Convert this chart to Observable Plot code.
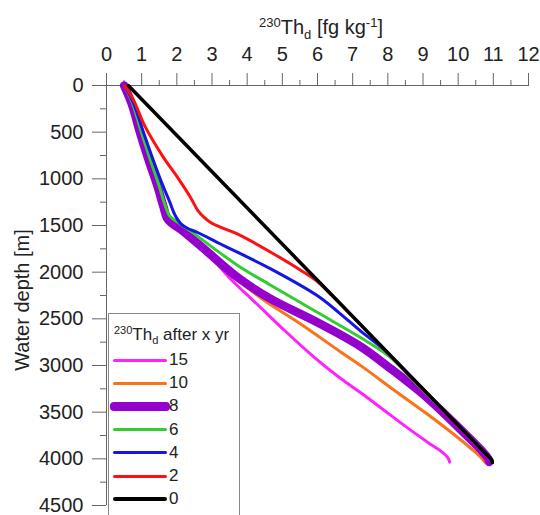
<!DOCTYPE html>
<html><head><meta charset="utf-8">
<script src="https://cdn.jsdelivr.net/npm/d3@7"></script>
<script src="https://cdn.jsdelivr.net/npm/@observablehq/plot@0.6"></script>
<style>
body{margin:0;background:#fff;font-family:"Liberation Sans",Arial,sans-serif;color:#222;}
#wrap{position:relative;width:540px;height:515px;overflow:hidden;}
#wrap svg{position:absolute;left:0;top:0;}
.title{position:absolute;left:321px;top:17px;transform:translateX(-50%);font-size:20px;line-height:20px;white-space:nowrap;}
.sup{font-size:13px;position:relative;top:-7px;}
.sub{font-size:13px;position:relative;top:5px;}
.ylab{position:absolute;left:22px;top:300px;transform:translate(-50%,-50%) rotate(-90deg);font-size:20px;line-height:20px;white-space:nowrap;}
.legend{position:absolute;left:108px;top:313px;width:132px;height:240px;border:1px solid #888;background:#fff;box-sizing:border-box;}
.ltitle{position:absolute;left:5px;top:12px;font-size:17px;line-height:17px;white-space:nowrap;}
.ltitle .sup{font-size:11px;top:-6px;}
.ltitle .sub{font-size:11px;top:4px;}
.row{position:absolute;left:0;width:130px;height:20px;}
.swatch{position:absolute;left:4px;width:54px;border-radius:4px;}
.lab{position:absolute;left:60px;top:0;font-size:17px;line-height:20px;}
</style></head><body><div id="wrap"></div>
<script>
// [230Th_d (fg/kg), water depth (m)] for each simulation time (years)
const yr0 = [[0.62,0],[2.96,908],[5.43,1866],[8.08,2894],[10.44,3810],[10.85,3969],[10.95,4008],[10.97,4040]];
const yr2 = [[0.52,0],[0.8,180],[1.07,420],[1.6,760],[2.02,985],[2.39,1200],[2.6,1340],[2.77,1410],[2.95,1465],[3.25,1520],[3.72,1590],[4.67,1786],[5.61,2000],[6.0,2100],[6.4,2245],[8.0,2866],[10.4,3797],[10.85,3970],[10.95,4008],[10.97,4040]];
const yr4 = [[0.52,0],[0.78,200],[1.05,500],[1.33,800],[1.58,1050],[1.8,1250],[1.95,1390],[2.11,1480],[2.3,1530],[2.59,1575],[3.2,1690],[3.72,1786],[4.67,1964],[5.99,2250],[6.6,2430],[7.22,2630],[7.89,2830],[8.5,3060],[10.4,3797],[10.85,3970],[10.95,4008],[10.97,4040]];
const yr6 = [[0.52,0],[0.75,200],[0.99,500],[1.25,800],[1.5,1080],[1.68,1300],[1.8,1400],[2.02,1464],[2.39,1560],[3.72,1925],[4.67,2140],[5.99,2430],[7.22,2700],[8.08,2915],[8.7,3150],[9.2,3340],[9.8,3565],[10.4,3797],[10.85,3970],[10.95,4008],[10.97,4040]];
const yr8 = [[0.5,0],[0.72,200],[0.95,500],[1.2,800],[1.45,1080],[1.62,1300],[1.72,1420],[1.85,1475],[2.1,1540],[2.77,1750],[3.72,2054],[4.67,2286],[5.99,2536],[7.22,2795],[8.1,3040],[9.1,3340],[10.0,3660],[10.4,3810],[10.7,3925],[10.85,3995],[10.88,4035]];
const yr10 = [[0.5,0],[0.72,200],[0.95,500],[1.2,800],[1.45,1080],[1.62,1300],[1.72,1420],[1.85,1475],[2.1,1540],[2.77,1755],[3.25,1925],[3.72,2080],[4.48,2300],[5.5,2550],[6.66,2855],[7.3,3020],[8.2,3270],[9.12,3520],[9.9,3745],[10.4,3900],[10.65,3985],[10.76,4035]];
const yr15 = [[0.5,0],[0.72,200],[0.95,500],[1.2,800],[1.45,1080],[1.62,1300],[1.72,1420],[1.85,1475],[2.1,1540],[2.77,1760],[3.2,1935],[3.6,2100],[4.19,2310],[5.05,2620],[5.9,2910],[6.66,3140],[7.22,3290],[8.0,3510],[8.64,3690],[9.2,3840],[9.5,3915],[9.7,3985],[9.76,4035]];

const years = [15, 10, 8, 6, 4, 2, 0];
const colors = ["#ff22ff", "#f8731c", "#9400cc", "#33cc33", "#1515e8", "#ff1010", "#000000"];
const widths = [3, 3, 8.5, 3, 3, 3, 3.5];
const profiles = [yr15, yr10, yr8, yr6, yr4, yr2, yr0];

const xMajor = d3.range(0, 13, 1);
const xMinor = d3.range(0.5, 12, 1);
const yMajor = d3.range(0, 4501, 500);
const yMinor = d3.range(250, 4500, 500);

const series = years.map((y, i) => ({yr: y, color: colors[i], width: widths[i], pts: profiles[i]}));

const lineMarks = series.map(s => Plot.line(s.pts, {
  x: d => d[0], y: d => d[1], stroke: s.color, strokeWidth: s.width,
  curve: "catmull-rom", strokeLinecap: "round", strokeLinejoin: "round"
}));

const chart = Plot.plot({
  width: 540, height: 515,
  marginTop: 85, marginBottom: 10, marginLeft: 106, marginRight: 12,
  style: {fontFamily: '"Liberation Sans", Arial, sans-serif', background: "transparent"},
  x: {domain: [0, 12]},
  y: {domain: [0, 4500], reverse: true},
  marks: [
    Plot.axisX({anchor: "top", ticks: xMajor, tickSize: 13, tickPadding: 12, fontSize: 20, stroke: "#666", fill: "#222", label: null}),
    Plot.axisX({anchor: "top", ticks: xMinor, tickSize: 6, tickFormat: () => "", stroke: "#666", label: null}),
    Plot.axisY({anchor: "left", ticks: yMajor, tickSize: 14, tickPadding: 9, fontSize: 20, stroke: "#666", fill: "#222", label: null, tickFormat: d => String(d)}),
    Plot.axisY({anchor: "left", ticks: yMinor, tickSize: 6, tickFormat: () => "", stroke: "#666", label: null}),
    Plot.ruleY([0], {stroke: "#666"}),
    Plot.ruleX([0], {stroke: "#666"}),
    ...lineMarks
  ]
});

const wrap = document.getElementById("wrap");
wrap.appendChild(chart);

const title = document.createElement("div");
title.className = "title";
title.innerHTML = '<span class="sup">230</span>Th<span class="sub">d</span> [fg kg<span class="sup">-1</span>]';
wrap.appendChild(title);

const ylab = document.createElement("div");
ylab.className = "ylab";
ylab.textContent = "Water depth [m]";
wrap.appendChild(ylab);

const legend = document.createElement("div");
legend.className = "legend";
legend.innerHTML = '<div class="ltitle"><span class="sup">230</span>Th<span class="sub">d</span> after x yr</div>';
series.forEach((s, i) => {
  const row = document.createElement("div");
  row.className = "row";
  row.style.top = (46 + i * 23.2 - 10) + "px";
  const sw = document.createElement("div");
  sw.className = "swatch";
  sw.style.background = s.color;
  sw.style.height = s.width + "px";
  sw.style.top = (10 - s.width / 2) + "px";
  if (s.width > 5) { sw.style.left = "1px"; sw.style.width = "60px"; }
  const lab = document.createElement("div");
  lab.className = "lab";
  lab.textContent = String(s.yr);
  row.appendChild(sw); row.appendChild(lab);
  legend.appendChild(row);
});
wrap.appendChild(legend);
</script>
</body></html>
